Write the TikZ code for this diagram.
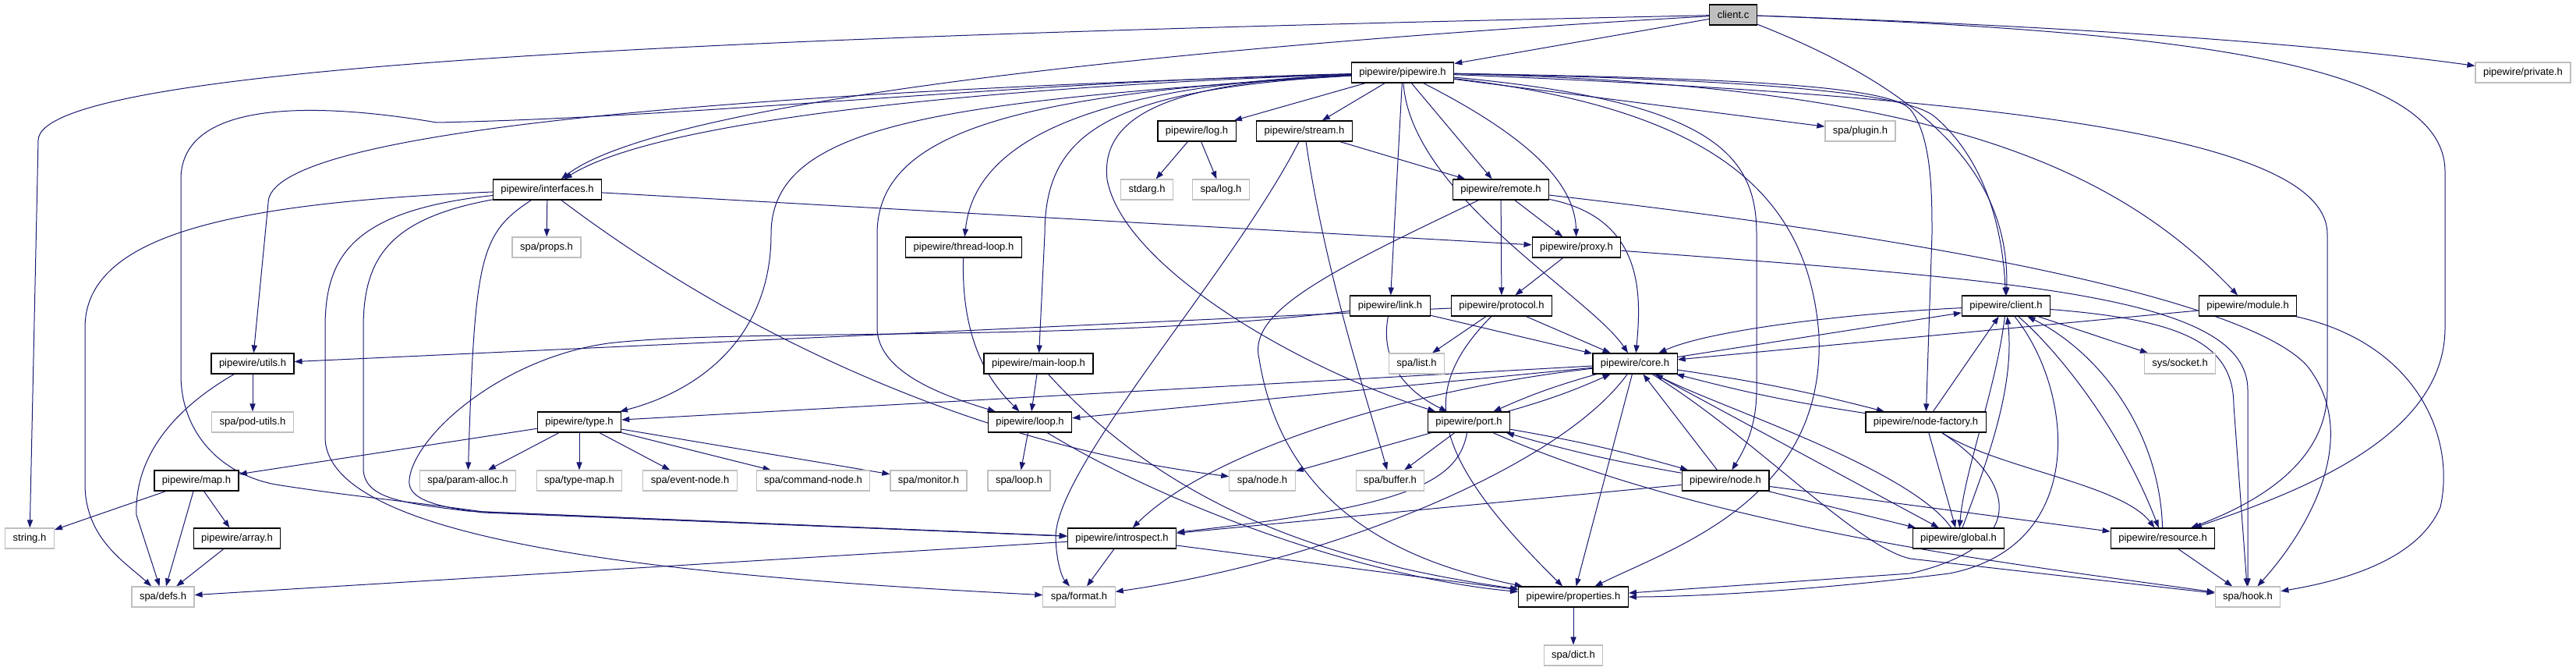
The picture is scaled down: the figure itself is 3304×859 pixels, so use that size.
\documentclass[tikz,border=0pt]{standalone}
\usepackage{fontspec}
\setmainfont{Liberation Sans}
\usetikzlibrary{arrows.meta}
\definecolor{edgeblue}{HTML}{191970}
\definecolor{greyb}{HTML}{BFBFBF}
\pgfdeclarelayer{edges}
\pgfsetlayers{edges,main}
\tikzset{
  doc/.style={draw=black, fill=white, line width=0.6pt, font=\fontsize{6.5}{7}\selectfont, inner xsep=5pt, inner ysep=0pt, minimum height=13pt},
  ext/.style={doc, draw=greyb},
  root/.style={doc, fill=greyb},
  e/.style={draw=edgeblue, line width=0.5pt, -{Triangle[length=5pt,width=3.6pt]}}
}
\begin{document}
\begin{tikzpicture}[x=0.5pt,y=-0.5pt]
\useasboundingbox (0,0) rectangle (3304,859);
% nodes
\node[root] (cc) at (2223,19) {client.c};
\node[doc] (pw) at (1799,93) {pipewire/pipewire.h};
\node[ext] (private) at (3236,93) {pipewire/private.h};
\node[doc] (logh) at (1535,168) {pipewire/log.h};
\node[doc] (stream) at (1673,168) {pipewire/stream.h};
\node[ext] (plugin) at (2386,168) {spa/plugin.h};
\node[doc] (interfaces) at (702,243) {pipewire/interfaces.h};
\node[ext] (stdarg) at (1471,243) {stdarg.h};
\node[ext] (spalog) at (1566,243) {spa/log.h};
\node[doc] (remote) at (1925,243) {pipewire/remote.h};
\node[ext] (props) at (701,317) {spa/props.h};
\node[doc] (threadloop) at (1236,317) {pipewire/thread-loop.h};
\node[doc] (proxy) at (2022,317) {pipewire/proxy.h};
\node[doc] (link) at (1783,392) {pipewire/link.h};
\node[doc] (protocol) at (1926,392) {pipewire/protocol.h};
\node[doc] (clienth) at (2573,392) {pipewire/client.h};
\node[doc] (module) at (2883,392) {pipewire/module.h};
\node[doc] (utils) at (324,466) {pipewire/utils.h};
\node[doc] (mainloop) at (1332,466) {pipewire/main-loop.h};
\node[ext] (list) at (1817,466) {spa/list.h};
\node[doc] (core) at (2097,466) {pipewire/core.h};
\node[ext] (socket) at (2796,466) {sys/socket.h};
\node[ext] (podutils) at (324,541) {spa/pod-utils.h};
\node[doc] (typeh) at (743,541) {pipewire/type.h};
\node[doc] (loop) at (1321,541) {pipewire/loop.h};
\node[doc] (port) at (1884,541) {pipewire/port.h};
\node[doc] (nodefactory) at (2470,541) {pipewire/node-factory.h};
\node[doc] (map) at (252,616) {pipewire/map.h};
\node[ext] (paramalloc) at (600,616) {spa/param-alloc.h};
\node[ext] (typemap) at (743,616) {spa/type-map.h};
\node[ext] (eventnode) at (885,616) {spa/event-node.h};
\node[ext] (commandnode) at (1043,616) {spa/command-node.h};
\node[ext] (monitor) at (1191,616) {spa/monitor.h};
\node[ext] (spaloop) at (1307,616) {spa/loop.h};
\node[ext] (spanode) at (1619,616) {spa/node.h};
\node[ext] (buffer) at (1783,616) {spa/buffer.h};
\node[doc] (node) at (2213,616) {pipewire/node.h};
\node[ext] (string) at (38,690) {string.h};
\node[doc] (array) at (304,690) {pipewire/array.h};
\node[doc] (introspect) at (1439,690) {pipewire/introspect.h};
\node[doc] (global) at (2512,690) {pipewire/global.h};
\node[doc] (resource) at (2774,690) {pipewire/resource.h};
\node[ext] (defs) at (209,765) {spa/defs.h};
\node[ext] (format) at (1384,765) {spa/format.h};
\node[doc] (properties) at (2018,765) {pipewire/properties.h};
\node[ext] (hook) at (2883,765) {spa/hook.h};
\node[ext] (dict) at (2018,840) {spa/dict.h};
\begin{pgfonlayer}{edges}
% client.c
\draw[e] (cc) -- (pw);
\draw[e] (cc) .. controls (1000,45) and (49,80) .. (49,180) -- (string);
\draw[e] (cc) .. controls (1500,60) and (850,130) .. (interfaces);
\draw[e] (cc) .. controls (2700,35) and (3000,60) .. (private);
\draw[e] (cc) .. controls (2480,120) and (2578,230) .. (clienth);
\draw[e] (cc) .. controls (2800,40) and (3136,80) .. (3136,220) -- (3136,420) .. controls (3136,560) and (2950,630) .. (resource);
% pipewire.h
\draw[e] (pw) -- (logh);
\draw[e] (pw) -- (stream);
\draw[e] (pw) -- (remote);
\draw[e] (pw) -- (link);
\draw[e] (pw) -- (plugin);
\draw[e] (pw) .. controls (1950,170) and (2020,230) .. (proxy);
\draw[e] (pw) .. controls (1810,250) and (2040,380) .. (core);
\draw[e] (pw) .. controls (2200,100) and (2420,108) .. (2450,140) .. controls (2478,175) and (2478,250) .. (2478,300) -- (nodefactory);
\draw[e] (pw) .. controls (2250,102) and (2445,118) .. (2482,150) .. controls (2540,200) and (2568,280) .. (clienth);
\draw[e] (pw) .. controls (2200,130) and (2253,200) .. (2253,300) -- (2253,500) .. controls (2253,550) and (2235,580) .. (node);
\draw[e] (pw) .. controls (2200,140) and (2320,250) .. (2333,430) .. controls (2341,640) and (2150,700) .. (properties);
\draw[e] (pw) .. controls (2450,108) and (2700,200) .. (module);
\draw[e] (pw) .. controls (2600,125) and (2985,180) .. (2985,300) -- (2985,500) .. controls (2985,600) and (2880,650) .. (resource);
\draw[e] (pw) .. controls (1300,110) and (850,150) .. (interfaces);
\draw[e] (pw) .. controls (900,120) and (344,170) .. (344,260) -- (utils);
\draw[e] (pw) .. controls (1200,130) and (989,160) .. (989,300) .. controls (989,430) and (900,500) .. (typeh);
\draw[e] (pw) .. controls (1300,105) and (900,150) .. (560,157) .. controls (430,135) and (232,120) .. (232,230) -- (232,480) .. controls (232,560) and (290,612) .. (360,622) .. controls (450,636) and (520,642) .. (620,656) -- (introspect);
\draw[e] (pw) .. controls (1400,110) and (1250,180) .. (threadloop);
\draw[e] (pw) .. controls (1300,120) and (1125,170) .. (1125,300) -- (1125,420) .. controls (1125,480) and (1220,510) .. (loop);
\draw[e] (pw) .. controls (1420,115) and (1340,170) .. (1340,300) -- (mainloop);
\draw[e] (pw) .. controls (1520,105) and (1410,140) .. (1420,230) .. controls (1440,340) and (1660,470) .. (port);
% interfaces.h
\draw[e] (interfaces) -- (props);
\draw[e] (interfaces) .. controls (300,260) and (109,300) .. (109,420) -- (109,620) .. controls (109,690) and (160,720) .. (defs);
\draw[e] (interfaces) .. controls (450,270) and (417,330) .. (417,420) -- (417,560) .. controls (417,700) and (900,740) .. (format);
\draw[e] (interfaces) .. controls (500,280) and (466,330) .. (466,420) -- (466,600) .. controls (466,640) and (520,645) .. (600,655) -- (introspect);
\draw[e] (interfaces) .. controls (615,300) and (609,330) .. (paramalloc);
\draw[e] (interfaces) .. controls (950,430) and (1250,570) .. (spanode);
\draw[e] (interfaces) -- (proxy);
% log, stream, remote, proxy
\draw[e] (logh) -- (stdarg);
\draw[e] (logh) -- (spalog);
\draw[e] (stream) -- (remote);
\draw[e] (stream) .. controls (1580,350) and (1352,600) .. (1354,690) .. controls (1355,720) and (1362,740) .. (format);
\draw[e] (stream) .. controls (1700,350) and (1750,500) .. (buffer);
\draw[e] (remote) -- (proxy);
\draw[e] (remote) -- (protocol);
\draw[e] (remote) .. controls (2110,280) and (2105,380) .. (core);
\draw[e] (remote) .. controls (1700,350) and (1600,400) .. (1615,460) .. controls (1650,680) and (1850,730) .. (properties);
\draw[e] (remote) .. controls (2600,320) and (2900,400) .. (2960,470) .. controls (3030,560) and (2960,680) .. (hook);
\draw[e] (proxy) -- (protocol);
\draw[e] (proxy) .. controls (2600,360) and (2883,380) .. (2883,500) -- (hook);
\draw[e] (threadloop) .. controls (1232,450) and (1280,500) .. (loop);
% link, protocol
\draw[e] (link) -- (core);
\draw[e] (link) .. controls (1770,460) and (1800,500) .. (port);
\draw[e] (link) .. controls (1400,440) and (950,420) .. (780,440) .. controls (640,460) and (530,560) .. (525,615) .. controls (522,640) and (560,650) .. (620,657) -- (introspect);
\draw[e] (protocol) -- (core);
\draw[e] (protocol) -- (list);
\draw[e] (protocol) .. controls (1820,500) and (1830,580) .. (properties);
\draw[e] (protocol) -- (utils);
% client.h, module.h
\draw[e] (clienth) .. controls (2400,400) and (2200,420) .. (core);
\draw[e] (core) -- (clienth);
\draw[e] (clienth) -- (socket);
\draw[e] (clienth) .. controls (2800,410) and (2865,440) .. (2865,520) -- (hook);
\draw[e] (clienth) .. controls (2660,500) and (2680,700) .. (2500,735) .. controls (2300,760) and (2150,765) .. (properties);
\draw[e] (clienth) .. controls (2560,500) and (2520,600) .. (global);
\draw[e] (global) .. controls (2545,600) and (2585,500) .. (clienth);
\draw[e] (clienth) .. controls (2640,450) and (2720,550) .. (resource);
\draw[e] (resource) .. controls (2770,550) and (2690,450) .. (clienth);
\draw[e] (module) -- (core);
\draw[e] (module) .. controls (3100,440) and (3150,560) .. (3130,650) .. controls (3100,720) and (3000,745) .. (hook);
% core.h
\draw[e] (core) -- (typeh);
\draw[e] (core) -- (loop);
\draw[e] (core) to[bend right=4] (port);
\draw[e] (port) to[bend right=4] (core);
\draw[e] (core) .. controls (1800,500) and (1550,580) .. (introspect);
\draw[e] (core) .. controls (2000,600) and (1700,720) .. (format);
\draw[e] (core) -- (properties);
\draw[e] (core) to[bend left=3] (nodefactory);
\draw[e] (nodefactory) to[bend left=3] (core);
\draw[e] (core) -- (global);
\draw[e] (global) .. controls (2450,600) and (2200,520) .. (core);
\draw[e] (core) .. controls (2250,560) and (2380,700) .. (2450,716) -- (hook);
\draw[e] (node) -- (core);
% node-factory
\draw[e] (nodefactory) -- (clienth);
\draw[e] (nodefactory) -- (global);
\draw[e] (nodefactory) .. controls (2560,600) and (2720,620) .. (resource);
\draw[e] (nodefactory) .. controls (2590,620) and (2600,700) .. (2450,735) -- (properties);
% port, node
\draw[e] (port) -- (spanode);
\draw[e] (port) -- (buffer);
\draw[e] (port) .. controls (1870,620) and (1800,650) .. (introspect);
\draw[e] (port) to[bend left=3] (node);
\draw[e] (node) to[bend left=3] (port);
\draw[e] (port) .. controls (2200,680) and (2600,725) .. (hook);
\draw[e] (node) -- (introspect);
\draw[e] (node) -- (global);
\draw[e] (node) -- (resource);
% loops
\draw[e] (mainloop) -- (loop);
\draw[e] (mainloop) .. controls (1500,650) and (1700,720) .. (properties);
\draw[e] (loop) -- (spaloop);
\draw[e] (loop) .. controls (1500,650) and (1750,740) .. (properties);
% type.h, map
\draw[e] (typeh) -- (map);
\draw[e] (typeh) -- (paramalloc);
\draw[e] (typeh) -- (typemap);
\draw[e] (typeh) -- (eventnode);
\draw[e] (typeh) -- (commandnode);
\draw[e] (typeh) -- (monitor);
\draw[e] (map) -- (string);
\draw[e] (map) -- (defs);
\draw[e] (map) -- (array);
\draw[e] (array) -- (defs);
\draw[e] (utils) -- (podutils);
\draw[e] (utils) .. controls (230,520) and (172,580) .. (175,660) -- (defs);
% introspect, properties, resource
\draw[e] (introspect) -- (defs);
\draw[e] (introspect) -- (format);
\draw[e] (introspect) -- (properties);
\draw[e] (properties) -- (dict);
\draw[e] (resource) -- (hook);
\end{pgfonlayer}
\end{tikzpicture}
\end{document}
